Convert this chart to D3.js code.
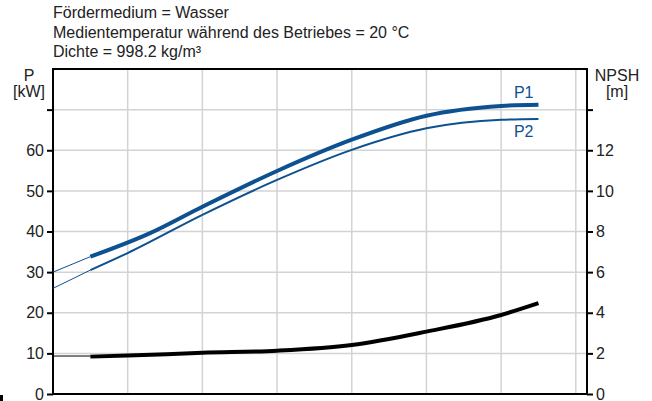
<!DOCTYPE html>
<html>
<head>
<meta charset="utf-8">
<script src="https://cdn.jsdelivr.net/npm/d3@7"></script>
<style>
    body { margin: 0; background: #fff; }
    text { font-family: "Liberation Sans", Arial, sans-serif; }
</style>
</head>
<body>
<div id="chart"></div>
<script>
// DATA (flow axis has no labels, positions are in grid steps)
var headerLines = ["Fördermedium = Wasser",
    "Medientemperatur während des Betriebes = 20 °C",
    "Dichte = 998.2 kg/m³"];

var pTicks = [0, 10, 20, 30, 40, 50, 60, 70];
var pTickLabels = ["0", "10", "20", "30", "40", "50", "60", ""];
var npshTicks = [0, 2, 4, 6, 8, 10, 12, 14];
var npshTickLabels = ["0", "2", "4", "6", "8", "10", "12", ""];
var qGrid = [1, 2, 3, 4, 5, 6, 7];

var p1Q = [0.5, 1.3, 2, 3, 4, 5, 6, 6.5];
var p1Val = [33.8, 39.6, 46.1, 54.9, 62.6, 68.5, 70.9, 71.2];
var p1ExtQ = [0, 0.5];
var p1ExtVal = [30, 33.8];

var p2Q = [0.5, 1, 2, 3, 4, 5, 6, 6.5];
var p2Val = [30.5, 34.7, 44.1, 52.7, 60.1, 65.4, 67.5, 67.7];
var p2ExtQ = [0, 0.5];
var p2ExtVal = [26, 30.5];

var npshQ = [0.5, 1, 2, 3, 4, 5, 6, 6.5];
var npshVal = [1.84, 1.89, 2.03, 2.13, 2.41, 3.07, 3.89, 4.47];
var npshExtQ = [0, 0.5];
var npshExtVal = [1.87, 1.87];

// HELPERS
function zip(xs, ys) {
    var res = [];
    xs.forEach((x, i) => res.push({ q: x, v: ys[i] }));
    return res;
}

var W = 652, H = 401;
var mLeft = 53, mRight = 587, mTop = 69, mBottom = 394;
var blue = '#0d5190';
var FS = '16px';

var svg = d3.select('#chart').append('svg')
    .attr('width', W)
    .attr('height', H);

var x = d3.scaleLinear().domain([0, 7.15]).range([mLeft, mRight]);
var yP = d3.scaleLinear().domain([0, 80]).range([mBottom, mTop]);
var yN = d3.scaleLinear().domain([0, 16]).range([mBottom, mTop]);

// header
svg.selectAll('text.header')
    .data(headerLines)
    .enter()
    .append('text')
    .attr('class', 'header')
    .attr('x', mLeft)
    .attr('y', (d, i) => 18 + i * 19.5)
    .style('font-size', FS)
    .style('fill', '#222')
    .text(d => d);

// grid
var grid = svg.append('g').attr('class', 'grid');
grid.selectAll('line.v')
    .data(qGrid)
    .enter()
    .append('line')
    .attr('x1', d => x(d)).attr('x2', d => x(d))
    .attr('y1', mTop).attr('y2', mBottom)
    .style('stroke', '#d3d3d3')
    .style('stroke-width', 1.5);
grid.selectAll('line.h')
    .data(pTicks.slice(1))
    .enter()
    .append('line')
    .attr('x1', mLeft).attr('x2', mRight)
    .attr('y1', d => yP(d)).attr('y2', d => yP(d))
    .style('stroke', '#d3d3d3')
    .style('stroke-width', 1.5);

// axes
var axL = svg.append('g')
    .attr('transform', 'translate(' + mLeft + ',0)')
    .call(d3.axisLeft(yP).tickValues(pTicks).tickSize(6).tickPadding(3)
        .tickFormat((d, i) => pTickLabels[i]));
var axR = svg.append('g')
    .attr('transform', 'translate(' + mRight + ',0)')
    .call(d3.axisRight(yN).tickValues(npshTicks).tickSize(6).tickPadding(3)
        .tickFormat((d, i) => npshTickLabels[i]));
[axL, axR].forEach(a => {
    a.select('.domain').remove();
    a.selectAll('.tick line').style('stroke', '#000').style('stroke-width', 2);
    a.selectAll('.tick text')
        .style('font-size', FS)
        .style('font-family', '"Liberation Sans", Arial, sans-serif')
        .style('fill', '#222');
});

// frame
var frame = svg.append('g').style('stroke', '#000').style('stroke-width', 2);
frame.append('line').attr('x1', mLeft).attr('x2', mLeft).attr('y1', mTop - 1).attr('y2', mBottom + 1);
frame.append('line').attr('x1', mRight).attr('x2', mRight).attr('y1', mTop - 1).attr('y2', mBottom + 1);
frame.append('line').attr('x1', mLeft).attr('x2', mRight).attr('y1', mTop).attr('y2', mTop);
frame.append('line').attr('x1', mLeft).attr('x2', mRight).attr('y1', mBottom).attr('y2', mBottom);

// axis titles
function title(tx, ty, s) {
    svg.append('text').attr('x', tx).attr('y', ty).attr('text-anchor', 'middle')
        .style('font-size', FS).style('fill', '#222').text(s);
}
title(29, 81, 'P');
title(29, 97, '[kW]');
title(617, 81, 'NPSH');
title(617, 97, '[m]');

// curves
var lineP = d3.line().x(d => x(d.q)).y(d => yP(d.v)).curve(d3.curveMonotoneX);
var lineN = d3.line().x(d => x(d.q)).y(d => yN(d.v)).curve(d3.curveMonotoneX);

function drawCurve(gen, data, color, width) {
    svg.append('path')
        .datum(data)
        .attr('d', gen)
        .style('fill', 'none')
        .style('stroke', color)
        .style('stroke-width', width);
}

drawCurve(lineP, zip(p1ExtQ, p1ExtVal), blue, 1);
drawCurve(lineP, zip(p2ExtQ, p2ExtVal), blue, 1);
drawCurve(lineN, zip(npshExtQ, npshExtVal), '#000', 1);
drawCurve(lineP, zip(p2Q, p2Val), blue, 2);
drawCurve(lineP, zip(p1Q, p1Val), blue, 4);
drawCurve(lineN, zip(npshQ, npshVal), '#000', 4);

// curve labels
svg.append('text').attr('x', x(6.5) - 5).attr('y', yP(p1Val[p1Val.length - 1]) - 7)
    .attr('text-anchor', 'end')
    .style('font-size', FS).style('fill', blue).text('P1');
svg.append('text').attr('x', x(6.5) - 5).attr('y', yP(p2Val[p2Val.length - 1]) + 18)
    .attr('text-anchor', 'end')
    .style('font-size', FS).style('fill', blue).text('P2');

// stray marker at bottom-left
svg.append('rect').attr('x', 0).attr('y', 395).attr('width', 3).attr('height', 6)
    .style('fill', '#000');
</script>
</body>
</html>
